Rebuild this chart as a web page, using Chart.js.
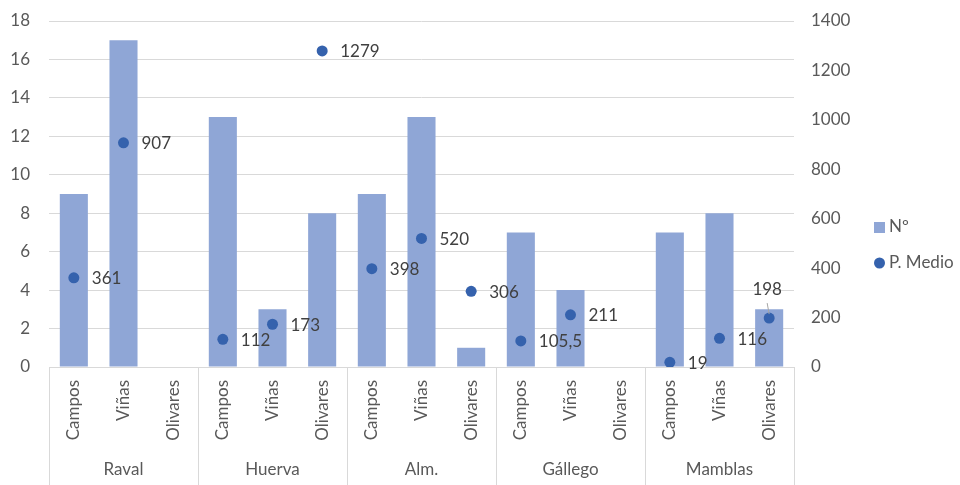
<!DOCTYPE html>
<html>
<head>
<meta charset="utf-8">
<script src="https://cdn.jsdelivr.net/npm/chart.js@4.4.0/dist/chart.umd.min.js"></script>
<style>
  html, body { margin: 0; padding: 0; background: #fff; }
</style>
</head>
<body>
<canvas id="chart" width="960" height="485"></canvas>
<script>
// data
const groups = ["Raval", "Huerva", "Alm.", "Gállego", "Mamblas"];
const types = ["Campos", "Viñas", "Olivares"];
const numValues = [9, 17, null, 13, 3, 8, 9, 13, 1, 7, 4, null, 7, 8, 3];
const medioValues = [361, 907, null, 112, 173, 1279, 398, 520, 306, 105.5, 211, null, 19, 116, 198];
const leftTicks = [0, 18, 2];
const rightTicks = [0, 1400, 200];

const labels = [];
groups.forEach(g => types.forEach(t => labels.push(t)));

const FONT = "Lato";
const barColor = "#8FA6D6";
const dotColor = "#3562AD";
const textColor = "#595959";

const fmt = v => String(v).replace(".", ",");

// group separators + names under the rotated labels
const groupAxis = {
  id: "groupAxis",
  afterDraw(chart) {
    const x = chart.scales.x;
    const area = chart.chartArea;
    const ctx = chart.ctx;
    const n = types.length;
    ctx.save();
    ctx.strokeStyle = "#d9d9d9";
    ctx.lineWidth = 1;
    for (let g = 0; g <= groups.length; g++) {
      let px;
      if (g === 0) px = area.left;
      else if (g === groups.length) px = area.right;
      else px = (x.getPixelForValue(g * n - 1) + x.getPixelForValue(g * n)) / 2;
      px = Math.round(px) + 0.5;
      ctx.beginPath();
      ctx.moveTo(px, area.bottom);
      ctx.lineTo(px, chart.height);
      ctx.stroke();
    }
    ctx.fillStyle = textColor;
    ctx.font = "17px " + FONT;
    ctx.textAlign = "center";
    ctx.textBaseline = "middle";
    groups.forEach((g, i) => {
      ctx.fillText(g, x.getPixelForValue(i * n + 1), 470);
    });
    ctx.restore();
  }
};

// value labels next to the points
const pointLabels = {
  id: "pointLabels",
  afterDatasetsDraw(chart) {
    const meta = chart.getDatasetMeta(1);
    const ctx = chart.ctx;
    ctx.save();
    ctx.font = "17px " + FONT;
    ctx.fillStyle = "#404040";
    meta.data.forEach((pt, i) => {
      const v = medioValues[i];
      if (v === null) return;
      if (i === medioValues.length - 1) {
        // last label sits above with a leader line
        ctx.strokeStyle = "#a6a6a6";
        ctx.lineWidth = 1;
        ctx.beginPath();
        ctx.moveTo(pt.x - 2, pt.y - 15);
        ctx.lineTo(pt.x, pt.y - 4);
        ctx.stroke();
        ctx.textAlign = "center";
        ctx.textBaseline = "middle";
        ctx.fillText(fmt(v), pt.x - 2, pt.y - 29);
      } else {
        ctx.textAlign = "left";
        ctx.textBaseline = "middle";
        ctx.fillText(fmt(v), pt.x + 18, pt.y + 1);
      }
    });
    ctx.restore();
  }
};

// legend on the right
const sideLegend = {
  id: "sideLegend",
  afterDraw(chart) {
    const ctx = chart.ctx;
    ctx.save();
    ctx.font = "17px " + FONT;
    ctx.fillStyle = barColor;
    ctx.fillRect(874, 222, 11, 11);
    ctx.fillStyle = dotColor;
    ctx.beginPath();
    ctx.arc(879.5, 263, 5.5, 0, Math.PI * 2);
    ctx.fill();
    ctx.fillStyle = textColor;
    ctx.textAlign = "left";
    ctx.textBaseline = "middle";
    ctx.fillText(chart.data.datasets[0].label, 889, 227);
    ctx.fillText(chart.data.datasets[1].label, 889, 263);
    ctx.restore();
  }
};

const fitY = w => s => {
  s.width = w;
  s.paddingTop = 0;
  s.paddingBottom = 0;
};

new Chart(document.getElementById("chart"), {
  data: {
    labels: labels,
    datasets: [
      {
        type: "bar",
        label: "Nº",
        data: numValues,
        backgroundColor: barColor,
        yAxisID: "y",
        categoryPercentage: 1,
        barPercentage: 0.565,
        order: 2
      },
      {
        type: "line",
        label: "P. Medio",
        data: medioValues,
        showLine: false,
        pointRadius: 5.5,
        pointBackgroundColor: dotColor,
        pointBorderColor: dotColor,
        pointBorderWidth: 0,
        yAxisID: "y1",
        order: 1
      }
    ]
  },
  options: {
    responsive: false,
    animation: false,
    devicePixelRatio: 1,
    layout: { padding: { top: 21, bottom: 0, left: 0, right: 0 } },
    plugins: {
      legend: { display: false },
      tooltip: { enabled: false }
    },
    scales: {
      x: {
        grid: { display: false, drawTicks: false },
        border: { display: true, color: "#d9d9d9" },
        ticks: {
          autoSkip: false,
          maxRotation: 90,
          minRotation: 90,
          padding: 13,
          color: textColor,
          font: { family: FONT, size: 17 }
        },
        afterFit: s => {
          s.height = 118;
          s.paddingLeft = 0;
          s.paddingRight = 0;
          s.paddingTop = 0;
          s.paddingBottom = 0;
        }
      },
      y: {
        position: "left",
        min: leftTicks[0],
        max: leftTicks[1],
        grid: { color: "#d9d9d9", drawTicks: false },
        border: { display: false },
        ticks: {
          stepSize: leftTicks[2],
          padding: 19,
          color: textColor,
          font: { family: FONT, size: 17 }
        },
        afterFit: fitY(49)
      },
      y1: {
        position: "right",
        min: rightTicks[0],
        max: rightTicks[1],
        grid: { display: false, drawTicks: false },
        border: { display: false },
        ticks: {
          stepSize: rightTicks[2],
          padding: 17,
          color: textColor,
          font: { family: FONT, size: 17 },
          callback: v => String(v)
        },
        afterFit: fitY(166)
      }
    }
  },
  plugins: [groupAxis, pointLabels, sideLegend]
});
</script>
</body>
</html>
